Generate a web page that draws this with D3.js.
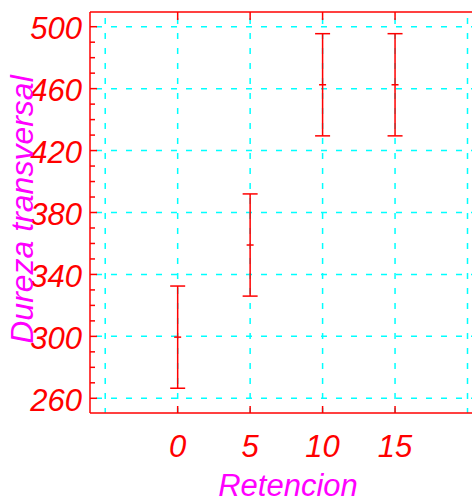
<!DOCTYPE html>
<html>
<head>
<meta charset="utf-8">
<script src="https://cdn.jsdelivr.net/npm/d3@7"></script>
<style>
  html, body { margin: 0; padding: 0; background: #fff; }
  svg { display: block; }
  text { font-family: "Liberation Sans", Arial, sans-serif; font-style: italic; }
</style>
</head>
<body>
<svg id="chart" width="472" height="499"></svg>
<script>
// Retention level vs. transverse hardness (mean ± error)
const retencion = [0, 5, 10, 15];
const dureza    = [299.5, 359, 462.5, 462.5];
const errores   = [33, 33, 33, 33];

const xTicks = [0, 5, 10, 15];
const xGrid  = [-5, 0, 5, 10, 15, 20];
const yTicks = [260, 300, 340, 380, 420, 460, 500];
const yMinor = d3.range(260, 510, 10);

const xLabel = "Retencion";
const yLabel = "Dureza transversal";

const RED = "#ff0000", MAGENTA = "#ff00ff", CYAN = "#00ffff";

const plotLeft = 90, plotTop = 12, plotBottom = 413, plotRight = 482;

const x = d3.scaleLinear().domain([-6.05, 21]).range([plotLeft, plotRight]);
const y = d3.scaleLinear().domain([250.5, 509.5]).range([plotBottom, plotTop]);

const svg = d3.select("#chart");

// dashed grid
const grid = svg.append("g")
  .attr("stroke", CYAN).attr("stroke-width", 1.5)
  .attr("stroke-dasharray", "6,9");
grid.selectAll("line.h").data(yTicks).join("line")
  .attr("class", "h")
  .attr("x1", plotLeft + 6).attr("x2", plotRight)
  .attr("y1", d => y(d)).attr("y2", d => y(d));
grid.selectAll("line.v").data(xGrid).join("line")
  .attr("class", "v")
  .attr("x1", d => x(d)).attr("x2", d => x(d))
  .attr("y1", plotTop + 6).attr("y2", plotBottom);

// frame
const frame = svg.append("g").attr("stroke", RED).attr("stroke-width", 1.5).attr("fill", "none");
frame.append("line").attr("x1", plotLeft).attr("x2", plotRight).attr("y1", plotTop).attr("y2", plotTop);
frame.append("line").attr("x1", plotLeft).attr("x2", plotRight).attr("y1", plotBottom).attr("y2", plotBottom);
frame.append("line").attr("x1", plotLeft).attr("x2", plotLeft).attr("y1", plotTop).attr("y2", plotBottom);

// y ticks: major every 40, minor every 10
frame.selectAll("line.ym").data(yMinor).join("line")
  .attr("class", "ym")
  .attr("x1", plotLeft).attr("x2", d => plotLeft + (yTicks.includes(d) ? 7 : 5))
  .attr("y1", d => y(d)).attr("y2", d => y(d));

// x ticks on bottom and top edges
frame.selectAll("line.xb").data(xTicks).join("line")
  .attr("class", "xb")
  .attr("x1", d => x(d)).attr("x2", d => x(d))
  .attr("y1", plotBottom).attr("y2", plotBottom - 7);
frame.selectAll("line.xt").data(xTicks).join("line")
  .attr("class", "xt")
  .attr("x1", d => x(d)).attr("x2", d => x(d))
  .attr("y1", plotTop).attr("y2", plotTop + 8);

// tick labels
svg.append("g").selectAll("text").data(yTicks).join("text")
  .attr("x", 82).attr("y", d => y(d)).attr("dy", "0.41em")
  .attr("text-anchor", "end").attr("fill", RED)
  .attr("font-size", 31)
  .text(d => d);

svg.append("g").selectAll("text").data(xTicks).join("text")
  .attr("x", d => x(d)).attr("y", 457)
  .attr("text-anchor", "middle").attr("fill", RED)
  .attr("font-size", 31)
  .text(d => d);

// axis titles
svg.append("text")
  .attr("x", 288).attr("y", 496)
  .attr("text-anchor", "middle").attr("fill", MAGENTA)
  .attr("font-size", 31)
  .text(xLabel);

svg.append("text")
  .attr("transform", `translate(33,${(plotTop + plotBottom) / 2 - 3}) rotate(-90)`)
  .attr("text-anchor", "middle").attr("fill", MAGENTA)
  .attr("font-size", 32)
  .text(yLabel);

// error bars
const data = retencion.map((r, i) => ({ r, m: dureza[i], e: errores[i] }));
const bars = svg.append("g").attr("stroke", RED).attr("stroke-width", 1.5);
const g = bars.selectAll("g").data(data).join("g");
g.append("line")
  .attr("x1", d => x(d.r)).attr("x2", d => x(d.r))
  .attr("y1", d => y(d.m - d.e)).attr("y2", d => y(d.m + d.e));
g.append("line")
  .attr("x1", d => x(d.r) - 7.5).attr("x2", d => x(d.r) + 7.5)
  .attr("y1", d => y(d.m + d.e)).attr("y2", d => y(d.m + d.e));
g.append("line")
  .attr("x1", d => x(d.r) - 7.5).attr("x2", d => x(d.r) + 7.5)
  .attr("y1", d => y(d.m - d.e)).attr("y2", d => y(d.m - d.e));
g.append("line")
  .attr("x1", d => x(d.r) - 3.5).attr("x2", d => x(d.r) + 3.5)
  .attr("y1", d => y(d.m)).attr("y2", d => y(d.m));
</script>
</body>
</html>
